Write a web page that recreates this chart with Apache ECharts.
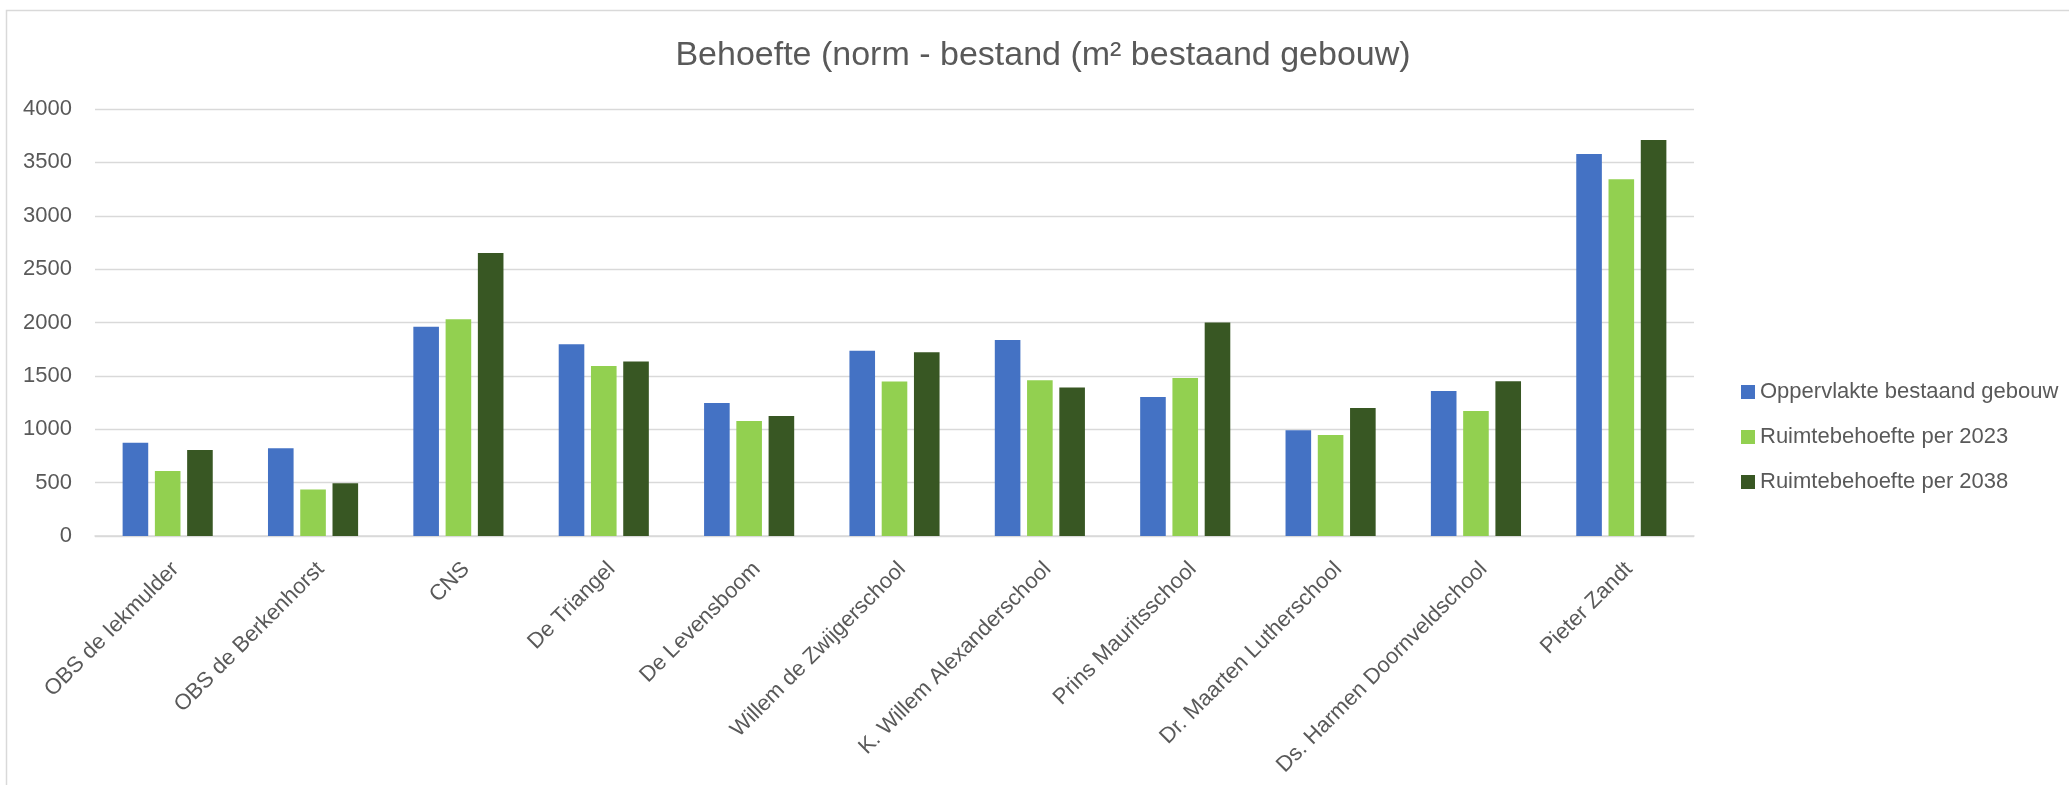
<!DOCTYPE html>
<html>
<head>
<meta charset="utf-8">
<script src="https://cdn.jsdelivr.net/npm/echarts@6/dist/echarts.min.js"></script>
<style>
html,body{margin:0;padding:0;background:#fff;}
#chart{width:2069px;height:785px;}
</style>
</head>
<body>
<div id="chart"></div>
<script>
const titleText = 'Behoefte (norm - bestand (m² bestaand gebouw)';
const categories = ['OBS de Iekmulder','OBS de Berkenhorst','CNS','De Triangel','De Levensboom','Willem de Zwijgerschool','K. Willem Alexanderschool','Prins Mauritsschool','Dr. Maarten Lutherschool','Ds. Harmen Doornveldschool','Pieter Zandt'];
const seriesNames = ['Oppervlakte bestaand gebouw','Ruimtebehoefte per 2023','Ruimtebehoefte per 2038'];
const oppervlakte = [873, 823, 1960, 1796, 1247, 1736, 1836, 1301, 990, 1358, 3578];
const behoefte2023 = [609, 435, 2030, 1592, 1077, 1448, 1458, 1481, 946, 1171, 3341];
const behoefte2038 = [806, 495, 2652, 1635, 1124, 1722, 1391, 2000, 1200, 1449, 3710];
const yMin = 0, yMax = 4000, yStep = 500;

const colors = ['#4472C4', '#92D050', '#385723'];
const font = 'Liberation Sans, Arial, sans-serif';
const textColor = '#595959';

const chart = echarts.init(document.getElementById('chart'), null, {renderer: 'canvas'});
const dataSets = [oppervlakte, behoefte2023, behoefte2038];
chart.setOption({
  animation: false,
  backgroundColor: '#ffffff',
  title: {
    text: titleText,
    left: 1043, top: 56, padding: 0,
    textAlign: 'center', textVerticalAlign: 'middle',
    textStyle: {fontFamily: font, fontSize: 34, fontWeight: 'normal', color: textColor}
  },
  graphic: [{
    type: 'rect', silent: true, z: -1,
    shape: {x: 6.5, y: 10.5, width: 2100, height: 800},
    style: {fill: 'none', stroke: '#D9D9D9', lineWidth: 1.5}
  }],
  legend: {
    orient: 'vertical', left: 1736, top: 376,
    itemWidth: 14, itemHeight: 14, itemGap: 23,
    icon: 'rect',
    data: seriesNames,
    textStyle: {fontFamily: font, fontSize: 22, color: textColor}
  },
  grid: {left: 95, right: 375, top: 109, bottom: 249, containLabel: false},
  xAxis: {
    type: 'category', data: categories,
    axisLine: {show: true, lineStyle: {color: '#D9D9D9', width: 1.5}},
    axisTick: {show: false},
    axisLabel: {
      interval: 0, rotate: 45, margin: 22, verticalAlign: 'top',
      fontFamily: font, fontSize: 22, color: textColor
    }
  },
  yAxis: {
    type: 'value', min: yMin, max: yMax, interval: yStep,
    axisLine: {show: false}, axisTick: {show: false},
    splitLine: {lineStyle: {color: '#D9D9D9', width: 1.3}},
    axisLabel: {margin: 23, fontFamily: font, fontSize: 22, color: textColor,
      formatter: v => String(v)}
  },
  series: seriesNames.map((n, i) => ({
    name: n, type: 'bar', data: dataSets[i],
    barGap: '26%', barCategoryGap: '38%',
    itemStyle: {color: colors[i]}
  }))
});
</script>
</body>
</html>
